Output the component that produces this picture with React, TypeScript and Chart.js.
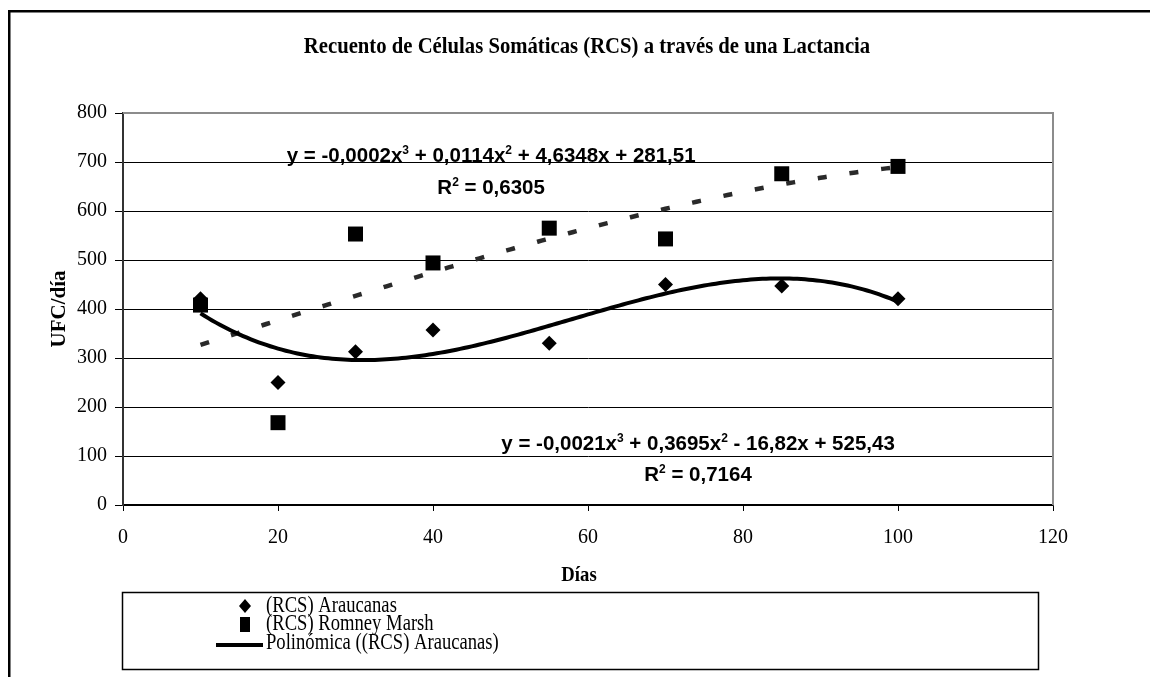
import React, { useEffect, useRef } from "react";
import { Chart, registerables } from "chart.js";

Chart.register(...registerables);

// ---------- data ----------
const days = [10, 20, 30, 40, 55, 70, 85, 100];
const araucanas = [421, 250, 313, 357, 330, 450, 447, 421];
const romneyMarsh = [408, 168, 553, 494, 565, 543, 676, 691];

const xTickValues = [0, 20, 40, 60, 80, 100, 120];
const yTickValues = [0, 100, 200, 300, 400, 500, 600, 700, 800];

const chartTitle = "Recuento de Células Somáticas (RCS) a través de una Lactancia";
const xAxisTitle = "Días";
const yAxisTitle = "UFC/día";
const legendLabels = ["(RCS) Araucanas", "(RCS) Romney Marsh", "Polinómica ((RCS) Araucanas)"];

// trendline labels: [text, isSuperscript]
const eqRomney: [string, boolean][] = [["y = -0,0002x", false], ["3", true], [" + 0,0114x", false], ["2", true], [" + 4,6348x + 281,51", false]];
const r2Romney: [string, boolean][] = [["R", false], ["2", true], [" = 0,6305", false]];
const eqArauc: [string, boolean][] = [["y = -0,0021x", false], ["3", true], [" + 0,3695x", false], ["2", true], [" - 16,82x + 525,43", false]];
const r2Arauc: [string, boolean][] = [["R", false], ["2", true], [" = 0,7164", false]];
// label anchors in data units: centre x, baseline of equation, baseline of R²
const eqRomneyAnchor = { x: 47.5, y: 699, y2: 634 };
const eqAraucAnchor = { x: 74.2, y: 112, y2: 49 };

// ---------- cubic least-squares trendline (as Excel "Polinómica" order 3) ----------
function cubicFit(xs: number[], ys: number[]) {
  const s = 100;
  const n = 4;
  const A: number[][] = Array.from({ length: n }, () => Array(n + 1).fill(0));
  for (let i = 0; i < xs.length; i++) {
    const t = xs[i] / s;
    const p = [1, t, t * t, t * t * t];
    for (let r = 0; r < n; r++) {
      for (let c = 0; c < n; c++) A[r][c] += p[r] * p[c];
      A[r][n] += p[r] * ys[i];
    }
  }
  for (let col = 0; col < n; col++) {
    let piv = col;
    for (let r = col + 1; r < n; r++) if (Math.abs(A[r][col]) > Math.abs(A[piv][col])) piv = r;
    [A[col], A[piv]] = [A[piv], A[col]];
    for (let r = 0; r < n; r++) {
      if (r === col) continue;
      const f = A[r][col] / A[col][col];
      for (let c = col; c <= n; c++) A[r][c] -= f * A[col][c];
    }
  }
  const coef = A.map((row, i) => row[n] / row[i]);
  return (x: number) => {
    const t = x / s;
    return coef[0] + coef[1] * t + coef[2] * t * t + coef[3] * t * t * t;
  };
}

function trendPoints(xs: number[], ys: number[]) {
  const f = cubicFit(xs, ys);
  const pts: { x: number; y: number }[] = [];
  const x0 = xs[0];
  const x1 = xs[xs.length - 1];
  for (let x = x0; x <= x1 + 1e-9; x += 0.5) pts.push({ x, y: f(x) });
  return pts;
}

function drawRich(ctx: CanvasRenderingContext2D, segs: [string, boolean][], cx: number, baseline: number) {
  const main = 'bold 20.5px "Liberation Sans", Arial, sans-serif';
  const sup = 'bold 12px "Liberation Sans", Arial, sans-serif';
  let total = 0;
  for (const [t, s] of segs) {
    ctx.font = s ? sup : main;
    total += ctx.measureText(t).width;
  }
  let x = cx - total / 2;
  ctx.textAlign = "left";
  ctx.textBaseline = "alphabetic";
  ctx.fillStyle = "#000";
  for (const [t, s] of segs) {
    ctx.font = s ? sup : main;
    ctx.fillText(t, x, s ? baseline - 8 : baseline);
    x += ctx.measureText(t).width;
  }
}

// condensed serif text (the original rendering has tall, narrow glyphs)
function drawCondensed(
  ctx: CanvasRenderingContext2D,
  text: string,
  x: number,
  y: number,
  font: string,
  sx: number,
  align: CanvasTextAlign
) {
  ctx.save();
  ctx.font = font;
  ctx.textAlign = align;
  ctx.textBaseline = "middle";
  ctx.translate(x, y);
  ctx.scale(sx, 1);
  ctx.fillText(text, 0, 0);
  ctx.restore();
}

const SERIF = '"Liberation Serif", "Times New Roman", serif';

const decorPlugin = {
  id: "decor",
  beforeDraw(chart: any) {
    const { ctx, width, height } = chart;
    ctx.save();
    ctx.fillStyle = "#fff";
    ctx.fillRect(0, 0, width, height);
    ctx.restore();
  },
  afterDraw(chart: any) {
    const { ctx, chartArea } = chart;
    const xs = chart.scales.x;
    const ys = chart.scales.y;
    ctx.save();
    // outer frame (top & left visible)
    ctx.fillStyle = "#000";
    ctx.fillRect(8, 10, 1142, 2.5);
    ctx.fillRect(8, 10, 2.5, 667);
    // plot area border (grey, top and right)
    ctx.strokeStyle = "#8c8c8c";
    ctx.lineWidth = 2;
    ctx.beginPath();
    ctx.moveTo(chartArea.left, chartArea.top);
    ctx.lineTo(chartArea.right, chartArea.top);
    ctx.lineTo(chartArea.right, chartArea.bottom);
    ctx.stroke();

    ctx.fillStyle = "#000";
    // title
    drawCondensed(ctx, chartTitle, 587, 47, `bold 23px ${SERIF}`, 0.9, "center");
    // x title
    drawCondensed(ctx, xAxisTitle, 579, 575, `bold 22px ${SERIF}`, 0.85, "center");
    // y title
    ctx.save();
    ctx.translate(60, (chartArea.top + chartArea.bottom) / 2);
    ctx.rotate(-Math.PI / 2);
    ctx.font = `bold 21px ${SERIF}`;
    ctx.textAlign = "center";
    ctx.textBaseline = "middle";
    ctx.fillText(yAxisTitle, 0, 0);
    ctx.restore();

    // trendline labels
    drawRich(ctx, eqRomney, xs.getPixelForValue(eqRomneyAnchor.x), ys.getPixelForValue(eqRomneyAnchor.y));
    drawRich(ctx, r2Romney, xs.getPixelForValue(eqRomneyAnchor.x), ys.getPixelForValue(eqRomneyAnchor.y2));
    drawRich(ctx, eqArauc, xs.getPixelForValue(eqAraucAnchor.x), ys.getPixelForValue(eqAraucAnchor.y));
    drawRich(ctx, r2Arauc, xs.getPixelForValue(eqAraucAnchor.x), ys.getPixelForValue(eqAraucAnchor.y2));

    // legend box
    const lx = 122, ly = 592, lw = 916, lh = 77;
    ctx.fillStyle = "#fff";
    ctx.fillRect(lx, ly, lw, lh);
    ctx.strokeStyle = "#000";
    ctx.lineWidth = 1.5;
    ctx.strokeRect(lx + 0.5, ly + 0.5, lw, lh);
    const rows = [606, 624, 643];
    ctx.fillStyle = "#000";
    // diamond
    ctx.beginPath();
    ctx.moveTo(245, rows[0] - 7);
    ctx.lineTo(251, rows[0]);
    ctx.lineTo(245, rows[0] + 7);
    ctx.lineTo(239, rows[0]);
    ctx.closePath();
    ctx.fill();
    // square
    ctx.fillRect(240, rows[1] - 7, 10, 15);
    // line
    ctx.fillRect(216, rows[2], 47, 4);
    legendLabels.forEach((t, i) => drawCondensed(ctx, t, 266, rows[i], `23px ${SERIF}`, 0.81, "left"));
    ctx.restore();
  },
};

export default function App() {
  const ref = useRef<HTMLCanvasElement>(null);
  useEffect(() => {
    if (!ref.current) return;
    const chart = new Chart(ref.current, {
      type: "scatter",
      data: {
        datasets: [
          {
            label: legendLabels[2],
            data: trendPoints(days, araucanas),
            showLine: true,
            borderColor: "#000",
            borderWidth: 4,
            pointRadius: 0,
            tension: 0,
            order: 2,
          },
          {
            label: "Polinómica ((RCS) Romney Marsh)",
            data: trendPoints(days, romneyMarsh),
            showLine: true,
            borderColor: "#2a2a2a",
            borderWidth: 4.5,
            borderDash: [9, 23],
            pointRadius: 0,
            tension: 0,
            order: 3,
          },
          {
            label: legendLabels[0],
            data: days.map((d, i) => ({ x: d, y: araucanas[i] })),
            pointStyle: "rectRot",
            pointRadius: 7.5,
            backgroundColor: "#000",
            borderWidth: 0,
            order: 1,
          },
          {
            label: legendLabels[1],
            data: days.map((d, i) => ({ x: d, y: romneyMarsh[i] })),
            pointStyle: "rect",
            pointRadius: 10.6,
            backgroundColor: "#000",
            borderWidth: 0,
            order: 0,
          },
        ],
      },
      options: {
        responsive: false,
        animation: false,
        devicePixelRatio: 1,
        events: [],
        layout: { padding: { left: 0, right: 97, top: 113, bottom: 0 } },
        plugins: { legend: { display: false }, tooltip: { enabled: false }, title: { display: false } },
        scales: {
          x: {
            type: "linear",
            min: 0,
            max: 120,
            afterBuildTicks: (s: any) => { s.ticks = xTickValues.map((v) => ({ value: v })); },
            afterFit: (s: any) => { s.height = 172; },
            ticks: { color: "#000", padding: 15, font: { family: SERIF, size: 20 } },
            grid: { drawOnChartArea: false, drawTicks: true, tickLength: 6, color: "#000", lineWidth: 1 },
            border: { color: "#000", width: 1.5 },
          },
          y: {
            type: "linear",
            min: 0,
            max: 800,
            afterBuildTicks: (s: any) => { s.ticks = yTickValues.map((v) => ({ value: v })); },
            afterFit: (s: any) => { s.width = 123; },
            ticks: { color: "#000", padding: 8, font: { family: SERIF, size: 20 } },
            grid: { color: "#000", lineWidth: 1, tickLength: 8, drawTicks: true },
            border: { color: "#333", width: 2 },
          },
        },
      },
      plugins: [decorPlugin],
    });
    return () => chart.destroy();
  }, []);
  return (
    <canvas
      ref={ref}
      width={1150}
      height={677}
      style={{ position: "fixed", left: 0, top: 0, width: 1150, height: 677, display: "block" }}
    />
  );
}
